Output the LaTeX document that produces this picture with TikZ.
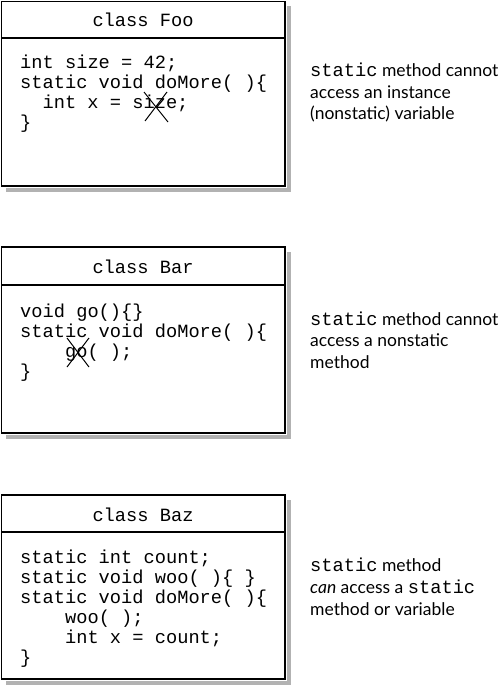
\documentclass[tikz,border=0pt]{standalone}
\usepackage{fontspec}
\setmainfont{Lato}
\setmonofont{Liberation Mono}
\newfontfamily\codefont{Liberation Mono}[Scale=1.0]
\begin{document}
\begin{tikzpicture}[x=1pt,y=-1pt,
  code/.style={anchor=base west,inner sep=0pt,font=\codefont\fontsize{18.7}{20}\selectfont},
  title/.style={anchor=base,inner sep=0pt,font=\codefont\fontsize{18.7}{20}\selectfont},
  note/.style={anchor=base west,inner sep=0pt,font=\fontsize{17.5}{21}\selectfont},
  boxline/.style={line width=1.5pt},
  shadowfill/.style={fill=black!30},
  cross/.style={line width=1pt}]
\useasboundingbox (0,0) rectangle (502,687);
\newcommand{\mono}[1]{{\codefont\fontsize{18.7}{20}\selectfont #1}}
% ---------- Foo ----------
\fill[shadowfill] (6,6) rectangle (291,192);
\fill[white] (0,0) rectangle (286.5,187.5);
\draw[boxline] (1.5,1.5) rectangle (285,186);
\draw[boxline] (1.5,38) -- (285,38);
\node[title] (footitle) at (143,27) {class Foo};
\node[code] (foo1) at (20,69) {int size = 42;};
\node[code] (foo2) at (20,89) {static void doMore( )\{};
\node[code] (foo3) at (42.4,109) {int x = size;};
\node[code] (foo4) at (20,129) {\}};
\draw[cross] (144,92) -- (168,122);
\draw[cross] (167,92) -- (145,121);
\node[note] (foon1) at (310,77) {\mono{static} method cannot};
\node[note] (foon2) at (310,99) {access an instance};
\node[note] (foon3) at (310,120) {(nonstatic) variable};
% ---------- Bar ----------
\fill[shadowfill] (6,252) rectangle (291,439);
\fill[white] (0,246) rectangle (286.5,434.5);
\draw[boxline] (1.5,247) rectangle (285,433);
\draw[boxline] (1.5,285) -- (285,285);
\node[title] (bartitle) at (143,273) {class Bar};
\node[code] (bar1) at (20,317) {void go()\{\}};
\node[code] (bar2) at (20,337) {static void doMore( )\{};
\node[code] (bar3) at (64.9,357) {go( );};
\node[code] (bar4) at (20,377) {\}};
\draw[cross] (67,338) -- (89,367);
\draw[cross] (89,338) -- (67,367);
\node[note] (barn1) at (310,325) {\mono{static} method cannot};
\node[note] (barn2) at (310,346.5) {access a nonstatic};
\node[note] (barn3) at (310,368) {method};
% ---------- Baz ----------
\fill[shadowfill] (6,500) rectangle (291,685);
\fill[white] (0,494) rectangle (286.5,680.5);
\draw[boxline] (1.5,495) rectangle (285,679);
\draw[boxline] (1.5,532) -- (285,532);
\node[title] (baztitle) at (143,521) {class Baz};
\node[code] (baz1) at (20,563) {static int count;};
\node[code] (baz2) at (20,583) {static void woo( )\{ \}};
\node[code] (baz3) at (20,603) {static void doMore( )\{};
\node[code] (baz4) at (64.9,623) {woo( );};
\node[code] (baz5) at (64.9,643) {int x = count;};
\node[code] (baz6) at (20,663) {\}};
\node[note] (bazn1) at (310,571) {\mono{static} method};
\node[note] (bazn2) at (310,593) {\textit{can} access a \mono{static}};
\node[note] (bazn3) at (310,615) {method or variable};
\end{tikzpicture}
\end{document}
